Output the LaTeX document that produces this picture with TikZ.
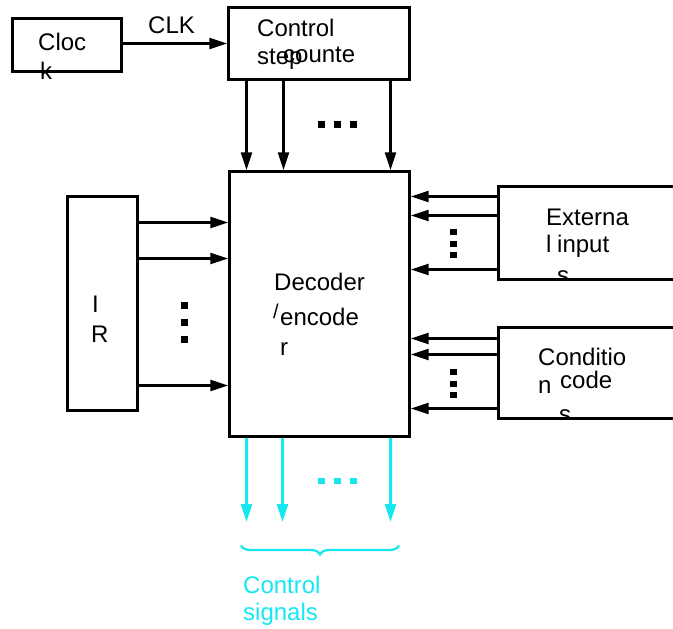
\documentclass[tikz,border=0pt]{standalone}
\usepackage{fontspec}
\setmainfont{Liberation Sans}
\usepackage{tikz}
\usetikzlibrary{arrows.meta,positioning,calc,decorations.pathreplacing}
\definecolor{sigcol}{RGB}{20,232,240}
\tikzset{
  blk/.style    ={draw,line width=2.4pt,inner sep=0pt},
  lbl/.style    ={anchor=base west,inner sep=0pt,font=\fontsize{24}{28}\selectfont},
  busline/.style={draw,line width=2.6pt,-{Triangle[length=18pt,width=11pt]}},
  sigline/.style={busline,draw=sigcol},
}

\begin{document}
\begin{tikzpicture}[x=1pt,y=-1pt]
  \useasboundingbox (0,0) rectangle (673,629);
  % boxes
  \node[blk,minimum width=109,minimum height=53] (clock) at (67,45){};
  \node[blk,minimum width=181,minimum height=72] (counter) at (319,43.5){};
  \node[blk,minimum width=180,minimum height=265] (dec) at (319.5,304){};
  \node[blk,minimum width=70,minimum height=214] (ir) at (102.5,303.5){};
  \node[blk,minimum width=192,minimum height=93] (ext) at (594.5,233){};
  \node[blk,minimum width=192,minimum height=91] (cond) at (594.5,373){};
  % texts
  \node[lbl] (clock1) at (38,50){Cloc};
  \node[lbl] (clock2) at (40,79){k};
  \node[lbl] (clklbl) at (148,33){CLK};
  \node[lbl] (cnt1) at (257,36){Control};
  \node[lbl] (cnt2) at (257,64){step};
  \node[lbl] (cnt3) at (283,62){counte};
  \node[lbl] (dec1) at (274,290){Decoder};
  \node[lbl,font=\fontsize{20}{22}\selectfont] (dec2) at (273,318){/};
  \node[lbl] (dec3) at (280,325){encode};
  \node[lbl] (dec4) at (280,355){r};
  \node[lbl] (ir1) at (92,312){I};
  \node[lbl] (ir2) at (91,342){R};
  \node[lbl] (ext1) at (546,225){Externa};
  \node[lbl] (ext2) at (546,252){l};
  \node[lbl] (ext3) at (557,252){input};
  \node[lbl] (cond1) at (538,365){Conditio};
  \node[lbl] (cond2) at (538,393){n};
  \node[lbl] (cond3) at (560,388){code};
  \begin{scope}
    \clip (490,0) rectangle (673,279);
    \node[lbl] (ext4) at (557,283){s};
  \end{scope}
  \begin{scope}
    \clip (490,0) rectangle (673,418);
    \node[lbl] (cond4) at (559,422){s};
  \end{scope}
  \node[lbl,text=sigcol] (sig1) at (243,593){Control};
  \node[lbl,text=sigcol] (sig2) at (243,620){signals};
  % connectors
  \draw[busline] (clock.east |- 0,43.5) -- (counter.west |- 0,43.5);
  \foreach \x in {246.5,283.5,390.5}
    \draw[busline] (counter.south -| \x,0) -- (dec.north -| \x,0);
  \foreach \y in {222.5,258.5,385.5}
    \draw[busline] (ir.east |- 0,\y) -- (dec.west |- 0,\y);
  \foreach \y in {196.5,215.5,269.5}
    \draw[busline] (ext.west |- 0,\y) -- (dec.east |- 0,\y);
  \foreach \y in {338.5,354.5,408.5}
    \draw[busline] (cond.west |- 0,\y) -- (dec.east |- 0,\y);
  \coordinate (sigend) at (0,522);
  \foreach \x in {246.5,282.5,390.5}
    \draw[sigline] (dec.south -| \x,0) -- (sigend -| \x,0);
  % dots
  \foreach \x in {321,337,353}{
    \fill (\x-3.5,120.5) rectangle +(7,7);
    \fill[sigcol] (\x-3.5,477.5) rectangle +(7,6);
  }
  \foreach \y in {305,322,339}
    \fill (180.5,\y-3.5) rectangle +(7,7);
  \foreach \y in {232,243.5,255}{
    \fill (450,\y-3) rectangle +(7,6);
    \fill (450,\y+140-3) rectangle +(7,6);
  }
  % brace
  \coordinate (brl) at (241,545.5);
  \coordinate (brr) at (399,545.5);
  \draw[sigcol,line width=2.2pt,decorate,decoration={brace,mirror,amplitude=9pt}] (brl) -- (brr);
\end{tikzpicture}
\end{document}
